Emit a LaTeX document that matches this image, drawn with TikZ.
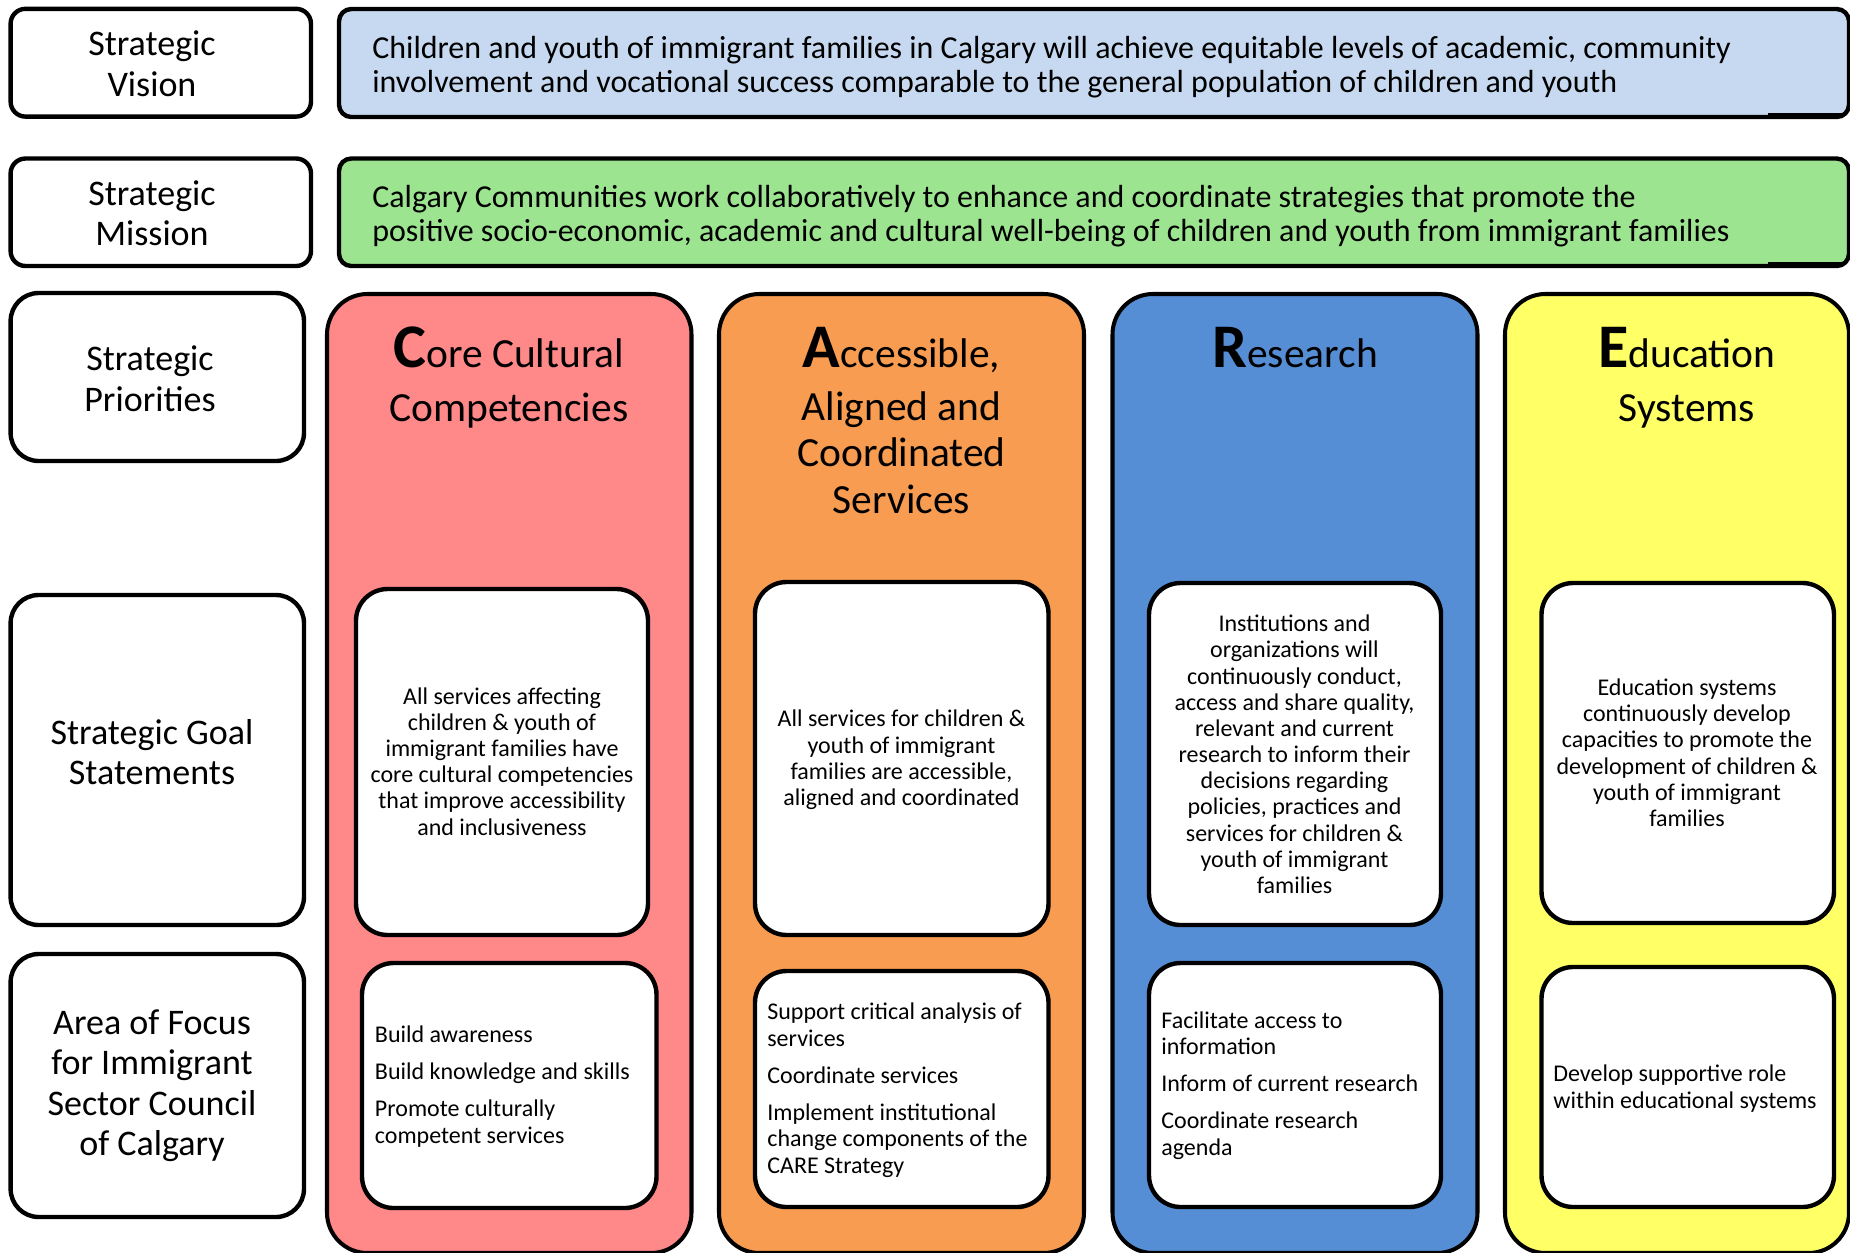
\documentclass[tikz,border=0pt]{standalone}
\usepackage{fontspec}
\setmainfont{Carlito}
\usetikzlibrary{fit}
\definecolor{visblue}{RGB}{198,217,240}
\definecolor{misgreen}{RGB}{157,228,144}
\definecolor{corepink}{RGB}{255,136,136}
\definecolor{accorange}{RGB}{247,156,80}
\definecolor{resblue}{RGB}{85,142,213}
\definecolor{eduyellow}{RGB}{255,255,102}
\newcommand\capltr[1]{{\fontsize{35.3pt}{35.3pt}\selectfont\bfseries #1}}
\begin{document}
\begin{tikzpicture}[x=0.02cm,y=-0.02cm,
  lblbox/.style={draw, line width=2.5pt, fill=white, inner sep=0pt},
  bandbox/.style={draw, line width=2.5pt, rounded corners=7pt, inner sep=0pt},
  colbox/.style={draw, line width=2.3pt, rounded corners=23pt, inner sep=0pt},
  whitebox/.style={draw, line width=2.5pt, fill=white, rounded corners=18pt, inner sep=0pt},
  lbltxt/.style={align=center, anchor=base, inner sep=0pt, font=\fontsize{20.5pt}{23pt}\selectfont},
  bandtxt/.style={align=left, anchor=base west, inner sep=0pt, font=\fontsize{18.2pt}{19.35pt}\selectfont},
  titletxt/.style={align=center, anchor=base, inner sep=0pt, font=\fontsize{23.6pt}{26.2pt}\selectfont},
  goaltxt/.style={align=center, anchor=base, inner sep=0pt, font=\fontsize{13.66pt}{14.9pt}\selectfont},
  focustxt/.style={align=left, anchor=base west, inner sep=0pt, font=\fontsize{13.66pt}{14.9pt}\selectfont}
]
\useasboundingbox (0,0) rectangle (1850,1252);
\clip (0,0) rectangle (1850,1252);

% left label boxes
\node[lblbox, rounded corners=8.5pt, fit={(10.6,8.8) (311,116.6)}] (visL) {};
\node[lblbox, rounded corners=8.5pt, fit={(10.6,158.5) (311,266)}] (misL) {};
\node[lblbox, rounded corners=16pt, fit={(10.6,293) (304,461)}] (priL) {};
\node[lblbox, rounded corners=16pt, fit={(10.6,595) (304,925)}] (goalL) {};
\node[lblbox, rounded corners=16pt, fit={(10.6,954) (304,1217)}] (focL) {};

\node[lbltxt] (visLt) at (152,96) {Strategic\\Vision};
\node[lbltxt] (misLt) at (152,245.5) {Strategic\\Mission};
\node[lbltxt] (priLt) at (150,411) {Strategic\\Priorities};
\node[lbltxt] (goalLt) at (152,784.5) {Strategic Goal\\Statements};
\node[lbltxt] (focLt) at (152,1155.5) {Area of Focus\\for Immigrant\\Sector Council\\of Calgary};

% bands
\node[bandbox, fill=visblue, fit={(339,9) (1849,117)}] (visB) {};
\node[bandbox, fill=misgreen, fit={(339,158.5) (1849,266)}] (misB) {};
\draw[line width=1.3pt] (1768,114) -- (1842,114);
\draw[line width=1.3pt] (1768,263.5) -- (1842,263.5);

\node[bandtxt] (visT) at (372,92.5) {Children and youth of immigrant families in Calgary will achieve equitable levels of academic, community\\involvement and vocational success comparable to the general population of children and youth};
\node[bandtxt] (misT) at (372,241.5) {Calgary Communities work collaboratively to enhance and coordinate strategies that promote the\\positive socio-economic, academic and cultural well-being of children and youth from immigrant families};

% columns
\node[colbox, fill=corepink, fit={(327,294) (691.5,1253)}] (coreC) {};
\node[colbox, fill=accorange, fit={(719,294) (1084,1253)}] (accC) {};
\node[colbox, fill=resblue, fit={(1112.5,294) (1477.5,1253)}] (resC) {};
\node[colbox, fill=eduyellow, fit={(1505,294) (1849,1253)}] (eduC) {};

% titles
\node[titletxt] (coreT) at (508.75,421) {\capltr{C}ore Cultural\\[4.5pt]Competencies};
\node[titletxt] (accT) at (901.5,513) {\capltr{A}ccessible,\\[4.5pt]Aligned and\\Coordinated\\Services};
\node[titletxt] (resT) at (1295,367) {\capltr{R}esearch};
\node[titletxt] (eduT) at (1687,421) {\capltr{E}ducation\\[4.5pt]Systems};

% goal boxes
\node[whitebox, fit={(356,589) (648,935)}] (coreG) {};
\node[whitebox, fit={(755,582) (1048.5,935)}] (accG) {};
\node[whitebox, fit={(1149,583) (1441,925)}] (resG) {};
\node[whitebox, fit={(1541.5,583) (1834,923)}] (eduG) {};

\node[goaltxt] (coreGt) at (502,835) {All services affecting\\children \& youth of\\immigrant families have\\core cultural competencies\\that improve accessibility\\and inclusiveness};
\node[goaltxt] (accGt) at (901.5,805.5) {All services for children \&\\youth of immigrant\\families are accessible,\\aligned and coordinated};
\node[goaltxt] (resGt) at (1294.5,893.5) {Institutions and\\organizations will\\continuously conduct,\\access and share quality,\\relevant and current\\research to inform their\\decisions regarding\\policies, practices and\\services for children \&\\youth of immigrant\\families};
\node[goaltxt] (eduGt) at (1687,826.5) {Education systems\\continuously develop\\capacities to promote the\\development of children \&\\youth of immigrant\\families};

% focus boxes
\node[whitebox, fit={(362,963) (656.5,1208)}] (coreF) {};
\node[whitebox, fit={(755,971) (1048.5,1207)}] (accF) {};
\node[whitebox, fit={(1149,963) (1441,1207)}] (resF) {};
\node[whitebox, fit={(1541.5,967) (1834,1207)}] (eduF) {};

\node[focustxt] (coreFt) at (374.6,1143) {Build awareness\\[6.3pt]Build knowledge and skills\\[6.3pt]Promote culturally\\competent services};
\node[focustxt] (accFt) at (767,1173) {Support critical analysis of\\services\\[6.3pt]Coordinate services\\[6.3pt]Implement institutional\\change components of the\\CARE Strategy};
\node[focustxt] (resFt) at (1161,1155) {Facilitate access to\\information\\[6.3pt]Inform of current research\\[6.3pt]Coordinate research\\agenda};
\node[focustxt] (eduFt) at (1553,1108) {Develop supportive role\\within educational systems};
\end{tikzpicture}
\end{document}
